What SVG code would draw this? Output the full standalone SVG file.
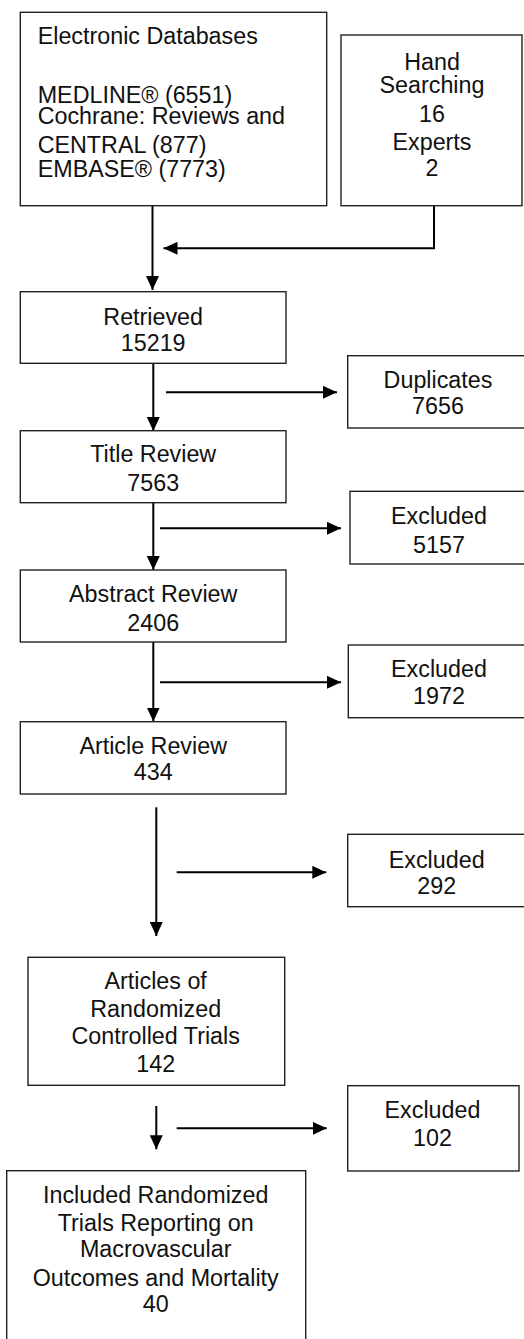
<svg xmlns="http://www.w3.org/2000/svg" width="524" height="1339" viewBox="0 0 524 1339">
<style>
.box{fill:#fff;stroke:#222;stroke-width:1.4}
.t{font-family:"Liberation Sans",Arial,sans-serif;font-size:23.3px;fill:#111}
.c{text-anchor:middle}
.ln{fill:none;stroke:#000;stroke-width:2}
</style>
<defs>
<marker id="ah" markerUnits="userSpaceOnUse" markerWidth="14" markerHeight="13" refX="14" refY="6.5" orient="auto">
<path d="M0,0 L14,6.5 L0,13 z" fill="#000"/>
</marker>
</defs>
<rect width="524" height="1339" fill="#fff"/>
<g id="connectors">
<line class="ln" x1="152.5" y1="205.7" x2="152.5" y2="290" marker-end="url(#ah)"/>
<polyline class="ln" points="434,205.7 434,248.3 163.5,248.3" marker-end="url(#ah)"/>
<line class="ln" x1="153.3" y1="363.3" x2="153.3" y2="431" marker-end="url(#ah)"/>
<line class="ln" x1="166" y1="392.3" x2="337" y2="392.3" marker-end="url(#ah)"/>
<line class="ln" x1="153.3" y1="502.7" x2="153.3" y2="570" marker-end="url(#ah)"/>
<line class="ln" x1="160" y1="528.3" x2="341" y2="528.3" marker-end="url(#ah)"/>
<line class="ln" x1="153.3" y1="642" x2="153.3" y2="721.5" marker-end="url(#ah)"/>
<line class="ln" x1="160" y1="682.3" x2="341" y2="682.3" marker-end="url(#ah)"/>
<line class="ln" x1="156.3" y1="807.3" x2="156.3" y2="936" marker-end="url(#ah)"/>
<line class="ln" x1="176.7" y1="872.3" x2="326.3" y2="872.3" marker-end="url(#ah)"/>
<line class="ln" x1="156.3" y1="1106" x2="156.3" y2="1149.3" marker-end="url(#ah)"/>
<line class="ln" x1="176.7" y1="1128.3" x2="326.7" y2="1128.3" marker-end="url(#ah)"/>
</g>
<g id="electronic">
<rect class="box" x="20.3" y="12.3" width="306.4" height="193.4"/>
<text class="t" x="37.7" y="44.3">Electronic Databases</text>
<text class="t" x="37.7" y="102.7">MEDLINE® (6551)</text>
<text class="t" x="37.7" y="124.3">Cochrane: Reviews and</text>
<text class="t" x="37.7" y="153.3">CENTRAL (877)</text>
<text class="t" x="37.7" y="176.7">EMBASE® (7773)</text>
</g>
<g id="hand">
<rect class="box" x="341" y="35" width="181" height="170.7"/>
<text class="t c" x="432" y="69.5">Hand</text>
<text class="t c" x="432" y="93">Searching</text>
<text class="t c" x="432" y="121.5">16</text>
<text class="t c" x="432" y="150">Experts</text>
<text class="t c" x="432" y="176">2</text>
</g>
<g id="retrieved">
<rect class="box" x="20.3" y="291.7" width="265.7" height="71.6"/>
<text class="t c" x="153.2" y="325">Retrieved</text>
<text class="t c" x="153.2" y="351">15219</text>
</g>
<g id="duplicates">
<rect class="box" x="347.7" y="355.7" width="181" height="72.3"/>
<text class="t c" x="438" y="388.3">Duplicates</text>
<text class="t c" x="438" y="414">7656</text>
</g>
<g id="title">
<rect class="box" x="20.3" y="430.7" width="265.7" height="72"/>
<text class="t c" x="153.2" y="462.3">Title Review</text>
<text class="t c" x="153.2" y="490.7">7563</text>
</g>
<g id="excluded1">
<rect class="box" x="350" y="491.3" width="179" height="72.7"/>
<text class="t c" x="439" y="524.3">Excluded</text>
<text class="t c" x="439" y="552.7">5157</text>
</g>
<g id="abstract">
<rect class="box" x="20.3" y="570" width="265.7" height="72"/>
<text class="t c" x="153.2" y="601.7">Abstract Review</text>
<text class="t c" x="153.2" y="631">2406</text>
</g>
<g id="excluded2">
<rect class="box" x="348.3" y="645" width="181" height="72.7"/>
<text class="t c" x="439" y="677.3">Excluded</text>
<text class="t c" x="439" y="704.3">1972</text>
</g>
<g id="article">
<rect class="box" x="20.3" y="721.7" width="265.7" height="72.3"/>
<text class="t c" x="153.2" y="754">Article Review</text>
<text class="t c" x="153.2" y="780">434</text>
</g>
<g id="excluded3">
<rect class="box" x="347.7" y="834.3" width="179" height="72.4"/>
<text class="t c" x="436.7" y="868.3">Excluded</text>
<text class="t c" x="436.7" y="894.3">292</text>
</g>
<g id="rct">
<rect class="box" x="28" y="957.3" width="256.7" height="128"/>
<text class="t c" x="155.7" y="989">Articles of</text>
<text class="t c" x="155.7" y="1017.3">Randomized</text>
<text class="t c" x="155.7" y="1044">Controlled Trials</text>
<text class="t c" x="155.7" y="1072.3">142</text>
</g>
<g id="excluded4">
<rect class="box" x="347.7" y="1085.7" width="171.3" height="85.3"/>
<text class="t c" x="432.5" y="1117.7">Excluded</text>
<text class="t c" x="432.5" y="1146">102</text>
</g>
<g id="included">
<rect class="box" x="6.7" y="1170.7" width="299" height="180"/>
<text class="t c" x="155.7" y="1202.7">Included Randomized</text>
<text class="t c" x="155.7" y="1231">Trials Reporting on</text>
<text class="t c" x="155.7" y="1257.3">Macrovascular</text>
<text class="t c" x="155.7" y="1285.7">Outcomes and Mortality</text>
<text class="t c" x="155.7" y="1311.7">40</text>
</g>
</svg>
